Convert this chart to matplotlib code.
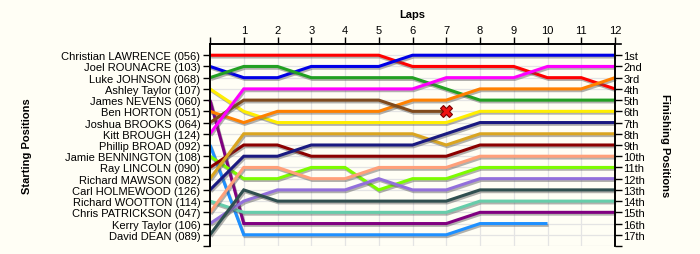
import matplotlib
matplotlib.use("Agg")
import matplotlib.pyplot as plt
import matplotlib.patheffects as pe
import numpy as np

plt.rcParams['font.family'] = ['Liberation Sans', 'DejaVu Sans']

laps = list(range(13))
lap_labels = ['', '1', '2', '3', '4', '5', '6', '7', '8', '9', '10', '11', '12']

drivers = ["Christian LAWRENCE (056)", "Joel ROUNACRE (103)", "Luke JOHNSON (068)",
           "Ashley Taylor (107)", "James NEVENS (060)", "Ben HORTON (051)",
           "Joshua BROOKS (064)", "Kitt BROUGH (124)", "Phillip BROAD (092)",
           "Jamie BENNINGTON (108)", "Ray LINCOLN (090)", "Richard MAWSON (082)",
           "Carl HOLMEWOOD (126)", "Richard WOOTTON (114)", "Chris PATRICKSON (047)",
           "Kerry Taylor (106)", "David DEAN (089)"]

finish_labels = ["1st", "2nd", "3rd", "4th", "5th", "6th", "7th", "8th", "9th",
                 "10th", "11th", "12th", "13th", "14th", "15th", "16th", "17th"]

# positions per lap (lap 0 .. lap 12), None = not running
lawrence   = [1, 1, 1, 1, 1, 1, 2, 2, 2, 2, 3, 3, 4]
rounacre   = [2, 3, 3, 2, 2, 2, 1, 1, 1, 1, 1, 1, 1]
johnson    = [3, 2, 2, 3, 3, 3, 3, 4, 5, 5, 5, 5, 5]
a_taylor   = [4, 6, 7, 7, 7, 7, 7, 7, 6, 6, 6, 6, 6]
nevens     = [5, 16, 16, 16, 16, 16, 16, 16, 15, 15, 15, 15, 15]
horton     = [6, 7, 6, 6, 6, 6, 5, 5, 4, 4, 4, 4, 3]
brooks     = [7, 5, 5, 5, 5, 5, 6, 6, None, None, None, None, None]
brough     = [8, 4, 4, 4, 4, 4, 4, 3, 3, 3, 2, 2, 2]
broad      = [9, 17, 17, 17, 17, 17, 17, 17, 16, 16, 16, None, None]
bennington = [10, 12, 12, 11, 11, 13, 12, 12, 11, 11, 11, 11, 11]
lincoln    = [11, 9, 9, 10, 10, 10, 10, 10, 9, 9, 9, 9, 9]
mawson     = [12, 8, 8, 8, 8, 8, 8, 9, 8, 8, 8, 8, 8]
holmewood  = [13, 10, 10, 9, 9, 9, 9, 8, 7, 7, 7, 7, 7]
wootton    = [14, 15, 15, 15, 15, 15, 15, 15, 14, 14, 14, 14, 14]
patrickson = [15, 11, 11, 12, 12, 11, 11, 11, 10, 10, 10, 10, 10]
k_taylor   = [16, 14, 13, 13, 13, 12, 13, 13, 12, 12, 12, 12, 12]
dean       = [17, 13, 14, 14, 14, 14, 14, 14, 13, 13, 13, 13, 13]

series = [lawrence, rounacre, johnson, a_taylor, nevens, horton, brooks, brough,
          broad, bennington, lincoln, mawson, holmewood, wootton, patrickson,
          k_taylor, dean]
colors = ["#ff0000", "#0000e6", "#22a022", "#ffee00", "#800080", "#ff8000",
          "#804a1c", "#ff00ff", "#1e90ff", "#7cfc00", "#8b0000", "#daa520",
          "#1a1a80", "#66cdaa", "#ffa07a", "#9370db", "#2f4f4f"]

retired_lap = [7]
retired_pos = [6]

bg = "#fffef5"
fs = 8.0
fig = plt.figure(figsize=(7.0, 2.55), dpi=100, facecolor=bg)
ax = fig.add_axes([210/700, 1-247/255, (615-210)/700, (247-45)/255])
ax.set_facecolor(bg)

for x in laps[1:]:
    ax.axvline(x, color="#e4e4e4", lw=0.9, zorder=0)
for y in range(1, 19):
    ax.axhline(y, color="#e4e4e4", lw=0.9, zorder=0)

shadow = [pe.SimpleLineShadow(offset=(0.8, -1.3), shadow_color="#555555", alpha=0.45),
          pe.Normal()]
for s, c in zip(series, colors):
    xs = [l for l, p in zip(laps, s) if p is not None]
    ys = [p for p in s if p is not None]
    ax.plot(xs, ys, color=c, lw=2.2, solid_joinstyle='miter', solid_capstyle='butt',
            path_effects=shadow, zorder=2, clip_on=False)

ax.plot(retired_lap, retired_pos, marker='X', ms=9, color="#ee1111",
        mec="#7a0000", mew=0.8, ls='none', zorder=5, clip_on=False)

ax.set_xlim(0, 12)
ax.set_ylim(18, 0)

ax.xaxis.tick_top()
ax.set_xticks(laps)
ax.set_xticklabels(lap_labels, fontsize=fs)
ax.tick_params(axis='x', direction='out', length=5, width=1, pad=1.5)

ax.set_yticks(list(range(1, 19)))
ax.set_yticklabels(drivers + [''], fontsize=fs)
ax.tick_params(axis='y', direction='out', length=5, width=1, pad=2,
               right=True, labelright=False)

ax2 = ax.twinx()
ax2.set_ylim(18, 0)
ax2.set_yticks(list(range(1, 19)))
ax2.set_yticklabels(finish_labels + [''], fontsize=fs)
ax2.tick_params(axis='y', direction='out', length=5, width=1, pad=1)
for a in (ax, ax2):
    a.spines['bottom'].set_visible(False)
    for sp in ('top', 'left', 'right'):
        a.spines[sp].set_linewidth(1.2)
ax.plot([1, 1.016], [1, 1], transform=ax.transAxes, color='k', lw=1.2, clip_on=False)

fig.text(412/700, 1-15/255, "Laps", ha='center', va='center', fontsize=fs, fontweight='bold')
fig.text(27/700, 1-146/255, "Starting Positions", ha='center', va='center',
         rotation=90, fontsize=fs, fontweight='bold')
fig.text(665/700, 1-146/255, "Finishing Positions", ha='center', va='center',
         rotation=-90, fontsize=fs, fontweight='bold')

fig.savefig("out.png", dpi=100, facecolor=bg)
